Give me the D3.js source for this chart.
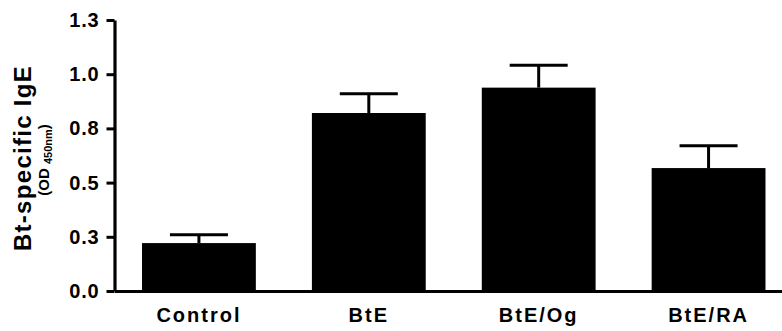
<!DOCTYPE html>
<html>
<head>
<meta charset="utf-8">
<script src="https://cdn.jsdelivr.net/npm/d3@7"></script>
<style>
  html, body { margin: 0; padding: 0; background: #fff; }
  svg { display: block; }
  text { font-family: "Liberation Sans", Arial, sans-serif; font-weight: bold; fill: #000; }
</style>
</head>
<body>
<svg id="chart" width="782" height="331"></svg>
<script>
const categories = ["Control", "BtE", "BtE/Og", "BtE/RA"];
const means = [0.221, 0.821, 0.938, 0.567];
const errors = [0.039, 0.089, 0.103, 0.103];
const tickValues = [0, 0.25, 0.5, 0.75, 1.0, 1.25];
const tickLabels = ["0.0", "0.3", "0.5", "0.8", "1.0", "1.3"];
const yTitle = "Bt-specific IgE";

const svg = d3.select("#chart");
const y = d3.scaleLinear().domain([0, 1.25]).range([291, 20]);
const x = d3.scaleBand().domain(categories).range([114.5, 793])
  .paddingInner(0.33).paddingOuter(0.162);

// bars
svg.append("g").selectAll("rect").data(categories).join("rect")
  .attr("x", d => x(d))
  .attr("width", x.bandwidth())
  .attr("y", (d, i) => y(means[i]))
  .attr("height", (d, i) => y(0) - y(means[i]))
  .attr("fill", "#000");

// error bars (upper only)
const eb = svg.append("g").attr("stroke", "#000").attr("stroke-width", 3);
categories.forEach((c, i) => {
  const cx = x(c) + x.bandwidth() / 2;
  const top = y(means[i] + errors[i]);
  eb.append("line").attr("x1", cx).attr("x2", cx).attr("y1", y(means[i])).attr("y2", top);
  eb.append("line").attr("x1", cx - 29).attr("x2", cx + 29).attr("y1", top).attr("y2", top);
});

// y axis
const yAxis = d3.axisLeft(y).tickValues(tickValues)
  .tickFormat((d, i) => tickLabels[i]).tickSize(8).tickSizeOuter(0).tickPadding(7);
const gy = svg.append("g").attr("transform", "translate(114.5,0)").call(yAxis);
gy.select(".domain").attr("stroke-width", 3.2);
gy.selectAll(".tick line").attr("stroke-width", 3);
gy.selectAll(".tick text").style("font-size", "20px").style("font-weight", "bold")
  .style("letter-spacing", "0.8px")
  .style("font-family", '"Liberation Sans", Arial, sans-serif');

// x axis
const xAxis = d3.axisBottom(x).tickSize(0).tickSizeOuter(0).tickPadding(17);
const gx = svg.append("g").attr("transform", "translate(0,291)").call(xAxis);
gx.select(".domain").attr("stroke-width", 3.2);
gx.selectAll(".tick text").style("font-size", "20px").style("font-weight", "bold")
  .style("letter-spacing", "2px")
  .style("font-family", '"Liberation Sans", Arial, sans-serif');

// y title
svg.append("text")
  .attr("transform", "translate(31,158) rotate(-90)")
  .attr("text-anchor", "middle")
  .style("font-size", "24px")
  .style("letter-spacing", "1.3px")
  .text(yTitle);

const sub = svg.append("text")
  .attr("transform", "translate(49,160) rotate(-90)")
  .attr("text-anchor", "middle")
  .style("font-size", "15px");
sub.append("tspan").text("(OD ");
sub.append("tspan").attr("dy", 3).style("font-size", "11px").text("450nm");
sub.append("tspan").attr("dy", -3).text(")");
</script>
</body>
</html>
